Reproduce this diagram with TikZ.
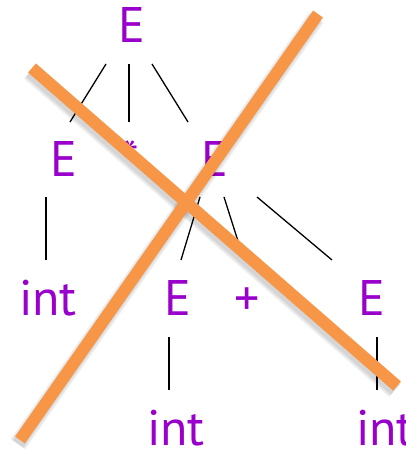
\documentclass[tikz,border=0pt]{standalone}
\usepackage{fontspec}
\setmainfont{PT Sans}
\definecolor{lbl}{HTML}{9900CC}
\definecolor{cross}{HTML}{F79646}
\begin{document}
\begin{tikzpicture}[x=1pt,y=-1pt,
  sym/.style={anchor=base,inner sep=0pt,text=lbl,font=\fontsize{50}{50}\selectfont},
  edge/.style={line width=1.3pt,black},
  strike/.style={line width=12pt,cross},
  shade/.style={line width=14pt,black,opacity=0.06}]
\useasboundingbox (0,0) rectangle (406,449);
\node[sym] (t) at (132,43) {E};
\node[sym] (a) at (64,176) {E};
\node[sym] (s) at (130,176) {*};
\node[sym] (b) at (215,176) {E};
\node[sym] (c) at (48,315) {int};
\node[sym] (d) at (178,315) {E};
\node[sym] (p) at (247,315) {+};
\node[sym] (f) at (372,315) {E};
\node[sym] (g) at (176,445) {int};
\node[sym] (h) at (385,445) {int};
\draw[edge] ([shift={(-26,21)}]t.base) -- ([shift={(6,-54)}]a.base);
\draw[edge] ([shift={(-3,21)}]t.base) -- ([shift={(-1,-54)}]s.base);
\draw[edge] ([shift={(20,21)}]t.base) -- ([shift={(-27,-54)}]b.base);
\draw[edge] ([shift={(-18,21)}]a.base) -- ([shift={(-2,-55)}]c.base);
\draw[edge] ([shift={(-15,21)}]b.base) -- ([shift={(3,-55)}]d.base);
\draw[edge] ([shift={(9,21)}]b.base) -- ([shift={(-3,-55)}]p.base);
\draw[edge] ([shift={(42,21)}]b.base) -- ([shift={(-40,-55)}]f.base);
\draw[edge] ([shift={(-9,22)}]d.base) -- ([shift={(-7,-55)}]g.base);
\draw[edge] ([shift={(5,22)}]f.base) -- ([shift={(-8,-55)}]h.base);
\coordinate (o1a) at (32,68);
\coordinate (o1b) at (397,386);
\coordinate (o2a) at (318,14);
\coordinate (o2b) at (20,440);
\foreach \w in {18,15,12}{
  \draw[shade,line width=\w pt] ([shift={(-2,4)}]o1a) -- ([shift={(-2,4)}]o1b);
  \draw[shade,line width=\w pt] ([shift={(-2,4)}]o2a) -- ([shift={(-2,4)}]o2b);
}
\draw[strike] (o1a) -- (o1b);
\draw[strike] (o2a) -- (o2b);
\end{tikzpicture}
\end{document}
